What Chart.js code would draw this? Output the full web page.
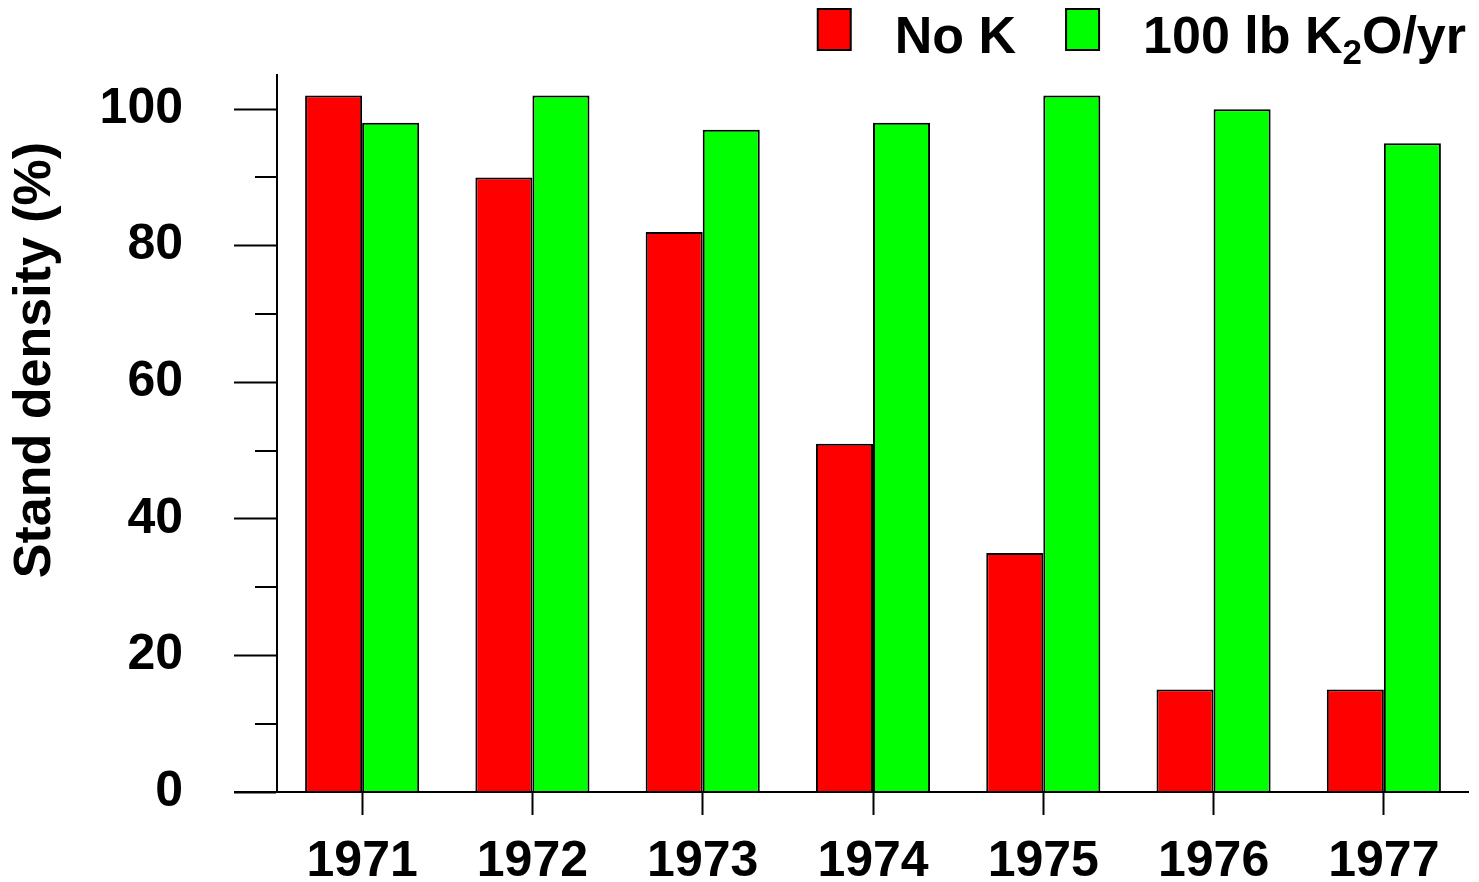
<!DOCTYPE html>
<html>
<head>
<meta charset="utf-8">
<script src="https://cdn.jsdelivr.net/npm/chart.js@4.4.1/dist/chart.umd.min.js"></script>
<style>
  html, body { margin: 0; padding: 0; background: #fff; }
</style>
</head>
<body>
<canvas id="standChart" width="1479" height="882"></canvas>
<script>
const years = ['1971', '1972', '1973', '1974', '1975', '1976', '1977'];
const noK = [102, 90, 82, 51, 35, 15, 15];
const withK = [98, 102, 97, 98, 102, 100, 95];
const yTicks = [0, 10, 20, 30, 40, 50, 60, 70, 80, 90, 100];
const seriesLabels = ['No K', '100 lb K₂O/yr'];
const yTitle = 'Stand density (%)';

const FONT = '"Liberation Sans", Arial, sans-serif';

// draws text, putting "₂" as a real lowered subscript
function subText(ctx, str, x, y, size, measureOnly) {
  const parts = str.split('₂');
  let w = 0;
  parts.forEach((p, i) => {
    ctx.font = 'bold ' + size + 'px ' + FONT;
    if (!measureOnly) ctx.fillText(p, x + w, y);
    w += ctx.measureText(p).width;
    if (i < parts.length - 1) {
      ctx.font = 'bold ' + Math.round(size * 0.68) + 'px ' + FONT;
      if (!measureOnly) ctx.fillText('2', x + w, y + 11);
      w += ctx.measureText('2').width;
    }
  });
  return w;
}

const extras = {
  id: 'extras',
  afterDraw(chart) {
    const ctx = chart.ctx;
    const area = chart.chartArea;
    const y = chart.scales.y;
    ctx.save();
    ctx.strokeStyle = '#000';
    ctx.lineWidth = 2;

    // minor y ticks
    yTicks.filter(v => v % 20 !== 0).forEach(v => {
      const py = Math.round(y.getPixelForValue(v));
      ctx.beginPath();
      ctx.moveTo(area.left - 22, py);
      ctx.lineTo(area.left, py);
      ctx.stroke();
    });

    // x axis line, runs out to the end of the major ticks
    ctx.beginPath();
    ctx.moveTo(area.left - 43, area.bottom);
    ctx.lineTo(area.right, area.bottom);
    ctx.stroke();

    // y title
    ctx.fillStyle = '#000';
    ctx.translate(50, 360);
    ctx.rotate(-Math.PI / 2);
    ctx.font = 'bold 52px ' + FONT;
    ctx.textAlign = 'center';
    ctx.textBaseline = 'alphabetic';
    ctx.fillText(yTitle, 0, 0);
    ctx.restore();

    // legend
    ctx.save();
    ctx.textAlign = 'left';
    ctx.textBaseline = 'alphabetic';
    const boxW = 33, boxH = 41, gap = 44, itemGap = 50, size = 52;
    const items = chart.data.datasets.map(ds => ({
      ds, w: subText(ctx, ds.label, 0, 0, size, true)
    }));
    let total = 0;
    items.forEach((it, i) => { total += boxW + gap + it.w + (i ? itemGap : 0); });
    let x = 1466 - total;
    items.forEach((it, i) => {
      if (i) x += itemGap;
      ctx.fillStyle = it.ds.backgroundColor;
      ctx.fillRect(x, 9, boxW, boxH);
      ctx.strokeStyle = '#000';
      ctx.lineWidth = 2;
      ctx.strokeRect(x, 9, boxW, boxH);
      x += boxW + gap;
      ctx.fillStyle = '#000';
      subText(ctx, it.ds.label, x, 53, size, false);
      x += it.w;
    });
    ctx.restore();
  }
};

new Chart(document.getElementById('standChart'), {
  type: 'bar',
  data: {
    labels: years,
    datasets: [{
      label: seriesLabels[0],
      data: noK,
      backgroundColor: '#ff0000',
      borderColor: '#000',
      borderWidth: 2
    }, {
      label: seriesLabels[1],
      data: withK,
      backgroundColor: '#00ff00',
      borderColor: '#000',
      borderWidth: 2
    }]
  },
  options: {
    responsive: false,
    animation: false,
    categoryPercentage: 0.67,
    barPercentage: 1.0,
    layout: { padding: { top: 75, right: 10, left: 0, bottom: 0 } },
    plugins: {
      legend: { display: false },
      tooltip: { enabled: false }
    },
    scales: {
      x: {
        grid: {
          drawOnChartArea: false,
          offset: false,
          tickLength: 23,
          tickWidth: 2,
          tickColor: '#000'
        },
        border: { display: false },
        ticks: {
          color: '#000',
          padding: 17,
          font: { family: FONT, size: 50, weight: 'bold' }
        },
        afterFit: s => { s.height = 90; s.paddingLeft = 0; s.paddingRight = 0; }
      },
      y: {
        min: 0,
        max: 105,
        afterBuildTicks: s => { s.ticks = yTicks.map(v => ({ value: v })); },
        grid: {
          drawOnChartArea: false,
          tickLength: 43,
          tickWidth: 2,
          tickColor: c => (c.tick && c.tick.value % 20 === 0) ? '#000' : 'rgba(0,0,0,0)'
        },
        border: { color: '#000', width: 2 },
        ticks: {
          color: '#000',
          padding: 51,
          font: { family: FONT, size: 50, weight: 'bold' },
          callback: v => (v % 20 === 0 ? v : '')
        },
        afterFit: s => { s.width = 277; s.paddingTop = 0; s.paddingBottom = 0; }
      }
    }
  },
  plugins: [extras]
});
</script>
</body>
</html>
